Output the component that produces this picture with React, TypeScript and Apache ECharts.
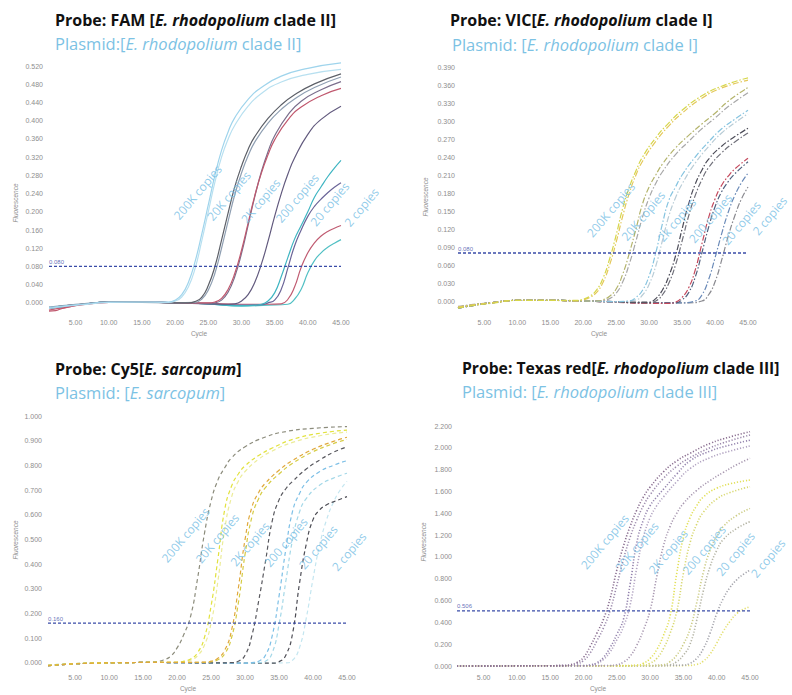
import React, { useEffect, useRef } from 'react';
import * as echarts from 'echarts';

// ---------- shared ticks ----------
const X_TICKS = [5, 10, 15, 20, 25, 30, 35, 40, 45];
const FAM_Y_TICKS = [0, 0.04, 0.08, 0.12, 0.16, 0.2, 0.24, 0.28, 0.32, 0.36, 0.4, 0.44, 0.48, 0.52];
const VIC_Y_TICKS = [0, 0.03, 0.06, 0.09, 0.12, 0.15, 0.18, 0.21, 0.24, 0.27, 0.3, 0.33, 0.36, 0.39];
const CY5_Y_TICKS = [0, 0.1, 0.2, 0.3, 0.4, 0.5, 0.6, 0.7, 0.8, 0.9, 1.0];
const TXR_Y_TICKS = [0, 0.2, 0.4, 0.6, 0.8, 1.0, 1.2, 1.4, 1.6, 1.8, 2.0, 2.2];

const COPY_TEXTS = ['200K copies', '20K copies', '2K copies', '200 copies', '20 copies', '2 copies'];
const COPY_TEXTS_VIC = ['200K copies', '20K copies', '2k copies', '200 copies', '20 copies', '2 copies'];

// thresholds
const FAM_THRESHOLD = 0.08;
const VIC_THRESHOLD = 0.08;
const CY5_THRESHOLD = 0.16;
const TXR_THRESHOLD = 0.506;

// copy-label anchor points [cycle, fluorescence]
const FAM_LABEL_POS = [[23.4, 0.243], [28.1, 0.235], [32.9, 0.224], [38.4, 0.23], [43.3, 0.217], [48.1, 0.21]];
const VIC_LABEL_POS = [[24.2, 0.152], [29.1, 0.142], [34.2, 0.135], [39.3, 0.138], [44.0, 0.13], [48.3, 0.142]];
const CY5_LABEL_POS = [[21.25, 0.518], [25.9, 0.504], [30.7, 0.481], [36.0, 0.488], [40.75, 0.468], [45.3, 0.45]];
const TXR_LABEL_POS = [[23.2, 1.14], [28.0, 1.093], [32.7, 1.048], [38.1, 1.063], [42.8, 1.027], [47.7, 0.987]];

// ---------- FAM curves ----------
const fam200kA = [[1,-0.010],[3,-0.007],[6,-0.003],[10,0.002],[15,0.002],[19,0.002],[20,0.006],[21,0.018],[22,0.045],[23,0.090],[24,0.150],[25,0.215],[26,0.280],[27,0.335],[28,0.376],[29,0.407],[31,0.447],[33,0.473],[36,0.498],[40,0.515],[45,0.527]];
const fam200kB = [[1,-0.012],[3,-0.008],[6,-0.004],[10,0.001],[15,0.002],[19,0.001],[20,0.004],[21,0.013],[22,0.035],[23,0.075],[24,0.135],[25,0.200],[26,0.265],[27,0.320],[28,0.360],[29,0.390],[31,0.432],[33,0.460],[36,0.485],[40,0.502],[45,0.513]];
const fam20kA = [[1,-0.011],[3,-0.007],[6,-0.003],[10,0.002],[15,0.002],[20,0.000],[22,0.000],[23,0.003],[24,0.012],[25,0.038],[26,0.080],[27,0.138],[28,0.198],[29,0.255],[30,0.300],[31,0.337],[32,0.365],[34,0.405],[36,0.435],[38,0.457],[41,0.481],[45,0.503]];
const fam20kB = [[1,-0.009],[3,-0.006],[6,-0.002],[10,0.002],[15,0.001],[20,0.000],[23,0.001],[24,0.008],[25,0.028],[26,0.065],[27,0.120],[28,0.180],[29,0.238],[30,0.285],[31,0.323],[32,0.353],[34,0.395],[36,0.425],[38,0.448],[41,0.473],[45,0.496]];
const fam2kA = [[1,-0.018],[2,-0.017],[3,-0.012],[6,-0.004],[10,0.001],[15,0.002],[20,0.000],[25,0.000],[26,0.002],[27,0.010],[28,0.030],[29,0.065],[30,0.115],[31,0.175],[32,0.235],[33,0.285],[34,0.325],[35,0.358],[37,0.402],[39,0.430],[42,0.455],[45,0.471]];
const fam2kB = [[1,-0.010],[3,-0.007],[6,-0.003],[10,0.002],[15,0.002],[20,0.000],[25,-0.001],[26,0.000],[27,0.006],[28,0.024],[29,0.058],[30,0.108],[31,0.170],[32,0.233],[33,0.288],[34,0.332],[35,0.367],[37,0.413],[39,0.443],[42,0.468],[45,0.486]];
const fam200A = [[1,-0.012],[3,-0.008],[6,-0.003],[10,0.002],[15,0.002],[20,0.000],[25,-0.002],[28,-0.003],[29,-0.002],[30,0.004],[31,0.018],[32,0.045],[33,0.085],[34,0.135],[35,0.190],[36,0.240],[37,0.283],[38,0.318],[40,0.370],[42,0.403],[45,0.432]];
const fam20A = [[1,-0.012],[3,-0.008],[6,-0.003],[10,0.002],[15,0.002],[20,0.000],[25,-0.002],[29,-0.006],[31,-0.006],[33,-0.003],[34,0.004],[35,0.022],[36,0.058],[37,0.100],[38,0.140],[39,0.170],[40,0.200],[41,0.232],[42,0.255],[43,0.277],[44,0.296],[45,0.313]];
const fam20B = [[1,-0.011],[3,-0.007],[6,-0.003],[10,0.002],[15,0.002],[20,0.000],[25,-0.002],[30,-0.005],[33,-0.004],[34,0.000],[35,0.006],[36,0.030],[37,0.077],[38,0.125],[39,0.160],[40,0.190],[41,0.212],[42,0.228],[43,0.242],[44,0.254],[45,0.264]];
const fam2A = [[1,-0.016],[3,-0.011],[6,-0.004],[10,0.001],[15,0.002],[20,0.000],[25,-0.001],[30,-0.003],[34,-0.003],[36,-0.002],[37,0.008],[38,0.035],[39,0.078],[40,0.110],[41,0.132],[42,0.147],[43,0.157],[44,0.164],[45,0.170]];
const fam2B = [[1,-0.012],[3,-0.008],[6,-0.003],[10,0.002],[15,0.002],[20,0.000],[25,-0.002],[30,-0.007],[34,-0.005],[37,-0.003],[38,0.008],[39,0.030],[40,0.066],[41,0.093],[42,0.110],[43,0.122],[44,0.131],[45,0.139]];

// ---------- VIC curves ----------
const vic200kA = [[1,-0.012],[3,-0.008],[6,-0.004],[10,0.001],[15,0.001],[19,0.001],[20,0.003],[21,0.008],[22,0.018],[23,0.038],[24,0.070],[25,0.110],[26,0.155],[27,0.190],[28,0.217],[29,0.240],[31,0.272],[33,0.297],[35,0.318],[38,0.342],[41,0.358],[45,0.372]];
const vic200kB = [[1,-0.010],[3,-0.007],[6,-0.003],[10,0.001],[15,0.001],[19,0.000],[20,0.002],[21,0.006],[22,0.014],[23,0.031],[24,0.060],[25,0.098],[26,0.142],[27,0.180],[28,0.210],[29,0.233],[31,0.266],[33,0.292],[35,0.313],[38,0.338],[41,0.355],[45,0.368]];
const vic20kA = [[1,-0.011],[3,-0.007],[6,-0.003],[10,0.001],[15,0.001],[20,0.000],[22,0.000],[23,0.002],[24,0.008],[25,0.020],[26,0.045],[27,0.080],[28,0.120],[29,0.162],[30,0.190],[31,0.210],[32,0.228],[34,0.255],[36,0.276],[38,0.295],[40,0.313],[42,0.333],[45,0.356]];
const vic20kB = [[1,-0.009],[3,-0.006],[6,-0.003],[10,0.001],[15,0.001],[20,0.000],[23,0.001],[24,0.004],[25,0.013],[26,0.032],[27,0.062],[28,0.100],[29,0.140],[30,0.172],[31,0.196],[32,0.215],[34,0.244],[36,0.266],[38,0.287],[40,0.305],[42,0.324],[45,0.347]];
const vic2kA = [[1,-0.012],[3,-0.008],[6,-0.003],[10,0.001],[15,0.001],[20,0.000],[25,-0.001],[27,0.000],[28,0.006],[29,0.018],[30,0.042],[31,0.080],[32,0.128],[33,0.168],[34,0.190],[35,0.210],[37,0.240],[39,0.265],[41,0.287],[43,0.303],[45,0.318]];
const vic2kB = [[1,-0.010],[3,-0.007],[6,-0.003],[10,0.001],[15,0.001],[20,0.000],[25,-0.001],[28,0.002],[29,0.010],[30,0.028],[31,0.058],[32,0.100],[33,0.142],[34,0.172],[35,0.195],[37,0.230],[39,0.257],[41,0.280],[43,0.297],[45,0.312]];
const vic200A = [[1,-0.012],[3,-0.008],[6,-0.003],[10,0.001],[15,0.001],[20,0.000],[25,-0.001],[28,-0.002],[30,-0.002],[31,0.004],[32,0.018],[33,0.042],[34,0.075],[35,0.120],[36,0.162],[37,0.195],[38,0.218],[39,0.236],[41,0.258],[43,0.274],[45,0.288]];
const vic200B = [[1,-0.011],[3,-0.007],[6,-0.003],[10,0.001],[15,0.001],[20,0.000],[25,-0.002],[30,-0.003],[31,0.000],[32,0.010],[33,0.030],[34,0.060],[35,0.100],[36,0.142],[37,0.176],[38,0.202],[39,0.222],[41,0.247],[43,0.265],[45,0.280]];
const vic20A = [[1,-0.012],[3,-0.008],[6,-0.003],[10,0.001],[15,0.001],[20,0.000],[25,-0.002],[30,-0.004],[33,-0.004],[34,-0.002],[35,0.006],[36,0.022],[37,0.052],[38,0.095],[39,0.138],[40,0.170],[41,0.193],[42,0.208],[43,0.220],[45,0.238]];
const vic20B = [[1,-0.011],[3,-0.007],[6,-0.003],[10,0.001],[15,0.001],[20,0.000],[25,-0.002],[30,-0.003],[34,-0.003],[35,0.002],[36,0.014],[37,0.040],[38,0.080],[39,0.122],[40,0.157],[41,0.182],[42,0.199],[43,0.212],[45,0.232]];
const vic2A = [[1,-0.012],[3,-0.008],[6,-0.003],[10,0.001],[15,0.001],[20,0.000],[25,-0.001],[30,-0.003],[35,-0.003],[37,0.000],[38,0.010],[39,0.035],[40,0.072],[41,0.112],[42,0.148],[43,0.176],[44,0.197],[45,0.213]];
const vic2B = [[1,-0.011],[3,-0.007],[6,-0.003],[10,0.001],[15,0.001],[20,0.000],[25,-0.001],[30,-0.003],[36,-0.003],[38,0.000],[39,0.010],[40,0.032],[41,0.068],[42,0.108],[43,0.142],[44,0.170],[45,0.190]];

// ---------- Cy5 curves ----------
const cy200k = [[1,-0.012],[4,-0.006],[8,-0.002],[12,0.000],[16,0.002],[17,0.004],[18,0.011],[19,0.025],[20,0.060],[21,0.115],[22,0.190],[23,0.340],[24,0.520],[25,0.655],[26,0.740],[27,0.790],[28,0.830],[30,0.875],[33,0.915],[36,0.937],[40,0.950],[45,0.957]];
const cy20kA = [[1,-0.012],[4,-0.006],[8,-0.002],[12,0.000],[16,0.001],[20,0.002],[21,0.006],[22,0.015],[23,0.040],[24,0.100],[25,0.230],[26,0.420],[27,0.620],[28,0.715],[29,0.765],[30,0.798],[32,0.840],[34,0.870],[37,0.905],[41,0.930],[45,0.943]];
const cy20kB = [[1,-0.010],[4,-0.005],[8,-0.001],[12,0.000],[16,0.001],[20,0.001],[21,0.004],[22,0.010],[23,0.028],[24,0.070],[25,0.160],[26,0.330],[27,0.540],[28,0.670],[29,0.735],[30,0.775],[32,0.825],[34,0.858],[37,0.893],[41,0.920],[45,0.935]];
const cy2kA = [[1,-0.012],[4,-0.006],[8,-0.002],[12,0.000],[16,0.001],[20,0.001],[24,0.002],[25,0.006],[26,0.018],[27,0.050],[28,0.130],[29,0.300],[30,0.500],[31,0.630],[32,0.690],[33,0.728],[35,0.780],[37,0.820],[40,0.865],[43,0.897],[45,0.914]];
const cy2kB = [[1,-0.011],[4,-0.005],[8,-0.001],[12,0.000],[16,0.001],[20,0.001],[24,0.001],[25,0.004],[26,0.012],[27,0.036],[28,0.100],[29,0.240],[30,0.440],[31,0.590],[32,0.665],[33,0.710],[35,0.765],[37,0.808],[40,0.855],[43,0.888],[45,0.905]];
const cy200A = [[1,-0.012],[4,-0.006],[8,-0.002],[12,0.000],[16,0.001],[20,0.000],[25,-0.001],[28,0.000],[29,0.006],[30,0.030],[31,0.110],[32,0.250],[33,0.410],[34,0.575],[35,0.660],[36,0.705],[37,0.735],[39,0.785],[41,0.822],[43,0.853],[45,0.875]];
const cy200B = [[1,-0.012],[4,-0.006],[8,-0.002],[12,0.000],[16,0.001],[20,0.000],[25,-0.001],[30,-0.002],[31,0.000],[32,0.006],[33,0.030],[34,0.110],[35,0.270],[36,0.460],[37,0.615],[38,0.685],[39,0.730],[41,0.775],[43,0.800],[45,0.819]];
const cy20A = [[1,-0.010],[4,-0.005],[8,-0.001],[12,0.000],[16,0.001],[20,0.000],[25,-0.001],[30,-0.002],[32,0.000],[33,0.006],[34,0.040],[35,0.155],[36,0.330],[37,0.500],[38,0.610],[39,0.665],[41,0.720],[43,0.748],[45,0.768]];
const cy20B = [[1,-0.012],[4,-0.006],[8,-0.002],[12,0.000],[16,0.001],[20,0.000],[25,-0.001],[30,-0.002],[34,-0.002],[35,0.004],[36,0.030],[37,0.120],[38,0.320],[39,0.480],[40,0.580],[41,0.620],[42,0.640],[43,0.652],[45,0.673]];
const cy2A = [[1,-0.010],[4,-0.005],[8,-0.001],[12,0.000],[16,0.001],[20,0.000],[25,-0.001],[30,-0.002],[36,-0.001],[37,0.010],[38,0.060],[39,0.180],[40,0.340],[41,0.480],[42,0.580],[43,0.650],[44,0.700],[45,0.735]];

// ---------- Texas red curves ----------
const tx200kA = [[1,0.0],[5,0.0],[10,0.002],[15,0.003],[17,0.004],[18,0.012],[19,0.032],[20,0.080],[21,0.180],[22,0.300],[23,0.430],[24,0.620],[25,0.880],[26,1.100],[27,1.280],[28,1.430],[29,1.550],[30,1.640],[32,1.780],[34,1.880],[36,1.950],[39,2.040],[42,2.100],[45,2.148]];
const tx200kB = [[1,0.0],[5,0.0],[10,0.002],[15,0.003],[18,0.006],[19,0.018],[20,0.050],[21,0.120],[22,0.230],[23,0.350],[24,0.510],[25,0.740],[26,0.980],[27,1.180],[28,1.340],[29,1.470],[30,1.570],[32,1.720],[34,1.830],[36,1.910],[39,2.000],[42,2.065],[45,2.117]];
const tx20kA = [[1,0.0],[5,0.0],[10,0.002],[15,0.003],[20,0.004],[21,0.010],[22,0.030],[23,0.080],[24,0.170],[25,0.290],[26,0.430],[27,0.750],[28,1.130],[29,1.340],[30,1.470],[31,1.550],[32,1.620],[34,1.760],[36,1.880],[39,1.970],[42,2.025],[45,2.070]];
const tx20kB = [[1,0.0],[5,0.0],[10,0.002],[15,0.003],[20,0.003],[21,0.007],[22,0.022],[23,0.060],[24,0.130],[25,0.240],[26,0.360],[27,0.560],[28,0.900],[29,1.180],[30,1.360],[31,1.470],[32,1.550],[34,1.690],[36,1.810],[39,1.910],[42,1.970],[45,2.017]];
const tx2kA = [[1,0.0],[5,0.0],[10,0.002],[15,0.003],[20,0.003],[24,0.005],[25,0.012],[26,0.035],[27,0.090],[28,0.190],[29,0.330],[30,0.510],[31,0.820],[32,1.100],[33,1.280],[34,1.400],[35,1.490],[37,1.610],[39,1.700],[41,1.775],[43,1.845],[45,1.904]];
const tx200A = [[1,0.0],[5,0.0],[10,0.001],[15,0.002],[20,0.002],[25,0.003],[28,0.008],[29,0.025],[30,0.070],[31,0.150],[32,0.280],[33,0.460],[34,0.850],[35,1.180],[36,1.360],[37,1.470],[38,1.550],[40,1.630],[42,1.670],[45,1.705]];
const tx200B = [[1,0.0],[5,0.0],[10,0.001],[15,0.002],[20,0.002],[25,0.002],[29,0.008],[30,0.025],[31,0.070],[32,0.160],[33,0.300],[34,0.500],[35,0.850],[36,1.130],[37,1.300],[38,1.410],[40,1.530],[42,1.590],[45,1.644]];
const tx20A = [[1,0.0],[5,0.0],[10,0.001],[15,0.002],[20,0.002],[25,0.002],[30,0.004],[32,0.012],[33,0.040],[34,0.100],[35,0.200],[36,0.340],[37,0.580],[38,0.860],[39,1.060],[40,1.190],[41,1.280],[43,1.380],[45,1.445]];
const tx20B = [[1,0.0],[5,0.0],[10,0.001],[15,0.002],[20,0.002],[25,0.002],[30,0.003],[33,0.012],[34,0.040],[35,0.100],[36,0.200],[37,0.420],[38,0.690],[39,0.910],[40,1.060],[41,1.160],[43,1.260],[45,1.323]];
const tx2A = [[1,0.0],[5,0.0],[10,0.001],[15,0.002],[20,0.002],[25,0.002],[30,0.003],[35,0.008],[36,0.025],[37,0.070],[38,0.160],[39,0.300],[40,0.480],[41,0.620],[42,0.720],[43,0.790],[44,0.840],[45,0.880]];
const tx2B = [[1,0.0],[5,0.0],[10,0.001],[15,0.002],[20,0.002],[25,0.002],[30,0.002],[35,0.004],[37,0.015],[38,0.045],[39,0.110],[40,0.210],[41,0.320],[42,0.410],[43,0.480],[44,0.520],[45,0.544]];

// ---------- curve/colour pairing (drawing order: last on top) ----------
const FAM_CURVES = [
  { data: fam2B, color: '#52c0c4' }, { data: fam2A, color: '#c05c72' },
  { data: fam20B, color: '#6b6598' }, { data: fam20A, color: '#3fb5c2' },
  { data: fam200A, color: '#625a7e' },
  { data: fam2kB, color: '#7a6e8c' }, { data: fam2kA, color: '#c0586e' },
  { data: fam20kB, color: '#8f9fb2' }, { data: fam20kA, color: '#5d6068' },
  { data: fam200kB, color: '#b8e0f0' }, { data: fam200kA, color: '#9fd4ec' },
];
const VIC_CURVES = [
  { data: vic2B, color: '#8a8a90' }, { data: vic2A, color: '#6a8ab8' },
  { data: vic20B, color: '#50607e' }, { data: vic20A, color: '#c4485c' },
  { data: vic200B, color: '#70707a' }, { data: vic200A, color: '#4c4c58' },
  { data: vic2kB, color: '#b8ccd6' }, { data: vic2kA, color: '#86c4e0' },
  { data: vic20kB, color: '#a8a8a8' }, { data: vic20kA, color: '#b4b46c' },
  { data: vic200kB, color: '#e4c85a' }, { data: vic200kA, color: '#d6d64a' },
];
const CY5_CURVES = [
  { data: cy2A, color: '#c4e6f0' }, { data: cy20B, color: '#4c4c54' },
  { data: cy20A, color: '#a4d8e8' }, { data: cy200B, color: '#7cbfe6' },
  { data: cy200A, color: '#58585e' }, { data: cy200k, color: '#8c8c7c' },
  { data: cy20kB, color: '#ecec9a' }, { data: cy2kB, color: '#d6cc44' },
  { data: cy20kA, color: '#e2e23e' }, { data: cy2kA, color: '#e0a83c' },
];
const TXR_CURVES = [
  { data: tx2B, color: '#e4e070' }, { data: tx2A, color: '#a4a4ac' },
  { data: tx20B, color: '#b4b4a4' }, { data: tx20A, color: '#cccc84' },
  { data: tx200B, color: '#d8d870' }, { data: tx200A, color: '#e2e058' },
  { data: tx2kA, color: '#a898b0' }, { data: tx20kB, color: '#b2a4c2' },
  { data: tx20kA, color: '#9484ae' }, { data: tx200kB, color: '#9c8aac' },
  { data: tx200kA, color: '#8a6e90' },
];

// ---------- layout ----------
const PANELS = [
  { curves: FAM_CURVES, yTicks: FAM_Y_TICKS, thr: FAM_THRESHOLD, thrText: '0.080', labels: FAM_LABEL_POS, texts: COPY_TEXTS,
    grid: { left: 49, top: 57, width: 292, height: 255 }, yMin: -0.02, yMax: 0.54, xMargin: 7, yMargin: 6, line: 'solid' },
  { curves: VIC_CURVES, yTicks: VIC_Y_TICKS, thr: VIC_THRESHOLD, thrText: '0.080', labels: VIC_LABEL_POS, texts: COPY_TEXTS_VIC,
    grid: { left: 458, top: 67, width: 290, height: 246 }, yMin: -0.02, yMax: 0.39, xMargin: 6, yMargin: 3, line: 'dashdot' },
  { curves: CY5_CURVES, yTicks: CY5_Y_TICKS, thr: CY5_THRESHOLD, thrText: '0.160', labels: CY5_LABEL_POS, texts: COPY_TEXTS,
    grid: { left: 48, top: 416, width: 299, height: 251.6 }, yMin: -0.02, yMax: 1.0, xMargin: 6.5, yMargin: 6, line: 'dashed' },
  { curves: TXR_CURVES, yTicks: TXR_Y_TICKS, thr: TXR_THRESHOLD, thrText: '0.506', labels: TXR_LABEL_POS, texts: COPY_TEXTS,
    grid: { left: 457, top: 426, width: 293, height: 243.3 }, yMin: -0.03, yMax: 2.2, xMargin: 5, yMargin: 5, line: 'dotted' },
];

const TICK_FONT = 'Liberation Sans';
const TICK_COLOR = '#8e8e8e';
const COPY_COLOR = '#74bde4';
const THR_COLOR = '#3a4ca8';
const TITLE_FONT = 'Open Sans';

function lineStyleFor(kind: string, color: string) {
  if (kind === 'dashdot') return { color, width: 1.2, type: [6, 2, 1.5, 2] };
  if (kind === 'dashed') return { color, width: 1.2, type: [4, 3] };
  if (kind === 'dotted') return { color, width: 1.6, type: [1.2, 1.8] };
  return { color, width: 1.2, type: 'solid' };
}

function titleText(x: number, y: number, parts: string, size: number) {
  return {
    type: 'text', x, y, silent: true,
    style: {
      text: parts, verticalAlign: 'middle', align: 'left',
      rich: {
        b: { fontFamily: TITLE_FONT, fontWeight: 'bold', fontSize: size, fill: '#111111' },
        bi: { fontFamily: TITLE_FONT, fontWeight: 'bold', fontStyle: 'italic', fontSize: size, fill: '#111111' },
        s: { fontFamily: TITLE_FONT, fontSize: 16.5, fill: '#7cc2e4' },
        si: { fontFamily: TITLE_FONT, fontStyle: 'italic', fontSize: 16.5, fill: '#7cc2e4' },
      },
    },
  };
}

function smallText(x: number, y: number, text: string, rotate: boolean) {
  return {
    type: 'text', x, y, rotation: rotate ? Math.PI / 2 : 0, silent: true,
    style: { text, fontFamily: TICK_FONT, fontSize: 6.5, fontStyle: rotate ? 'italic' : 'normal', fill: TICK_COLOR, align: 'center', verticalAlign: 'middle' },
  };
}

export default function App() {
  const ref = useRef<HTMLDivElement>(null);
  useEffect(() => {
    if (!ref.current) return;
    const chart = echarts.init(ref.current, undefined, { renderer: 'svg' });
    const grids: any[] = [];
    const xAxes: any[] = [];
    const yAxes: any[] = [];
    const series: any[] = [];
    PANELS.forEach((p, i) => {
      grids.push({ ...p.grid, containLabel: false, outerBoundsMode: 'none' });
      xAxes.push({
        type: 'value', gridIndex: i, min: 1, max: 45,
        axisLine: { show: false }, axisTick: { show: false }, splitLine: { show: false },
        axisLabel: { customValues: X_TICKS, formatter: (v: number) => v.toFixed(2), fontSize: 7, fontFamily: TICK_FONT, color: TICK_COLOR, margin: p.xMargin },
      });
      yAxes.push({
        type: 'value', gridIndex: i, min: p.yMin, max: p.yMax,
        axisLine: { show: false }, axisTick: { show: false }, splitLine: { show: false },
        axisLabel: { customValues: p.yTicks, formatter: (v: number) => v.toFixed(3), fontSize: 7, fontFamily: TICK_FONT, color: TICK_COLOR, margin: p.yMargin },
      });
      p.curves.forEach((c) => {
        series.push({
          type: 'line', xAxisIndex: i, yAxisIndex: i, data: c.data, smooth: 0.5,
          symbol: 'none', silent: true, lineStyle: lineStyleFor(p.line, c.color), z: 2,
        });
      });
      series.push({
        type: 'line', xAxisIndex: i, yAxisIndex: i, data: [[1, p.thr], [45, p.thr]], symbol: 'none', silent: true,
        lineStyle: { color: THR_COLOR, width: 1.3, type: [3, 2] }, z: 3,
      });
      const labelItems: any[] = p.labels.map((pos, k) => ({
        value: pos,
        label: { show: true, formatter: p.texts[k], rotate: 50, position: 'inside', color: COPY_COLOR, fontSize: 12, fontFamily: TITLE_FONT },
      }));
      labelItems.push({
        value: [1, p.thr],
        label: { show: true, formatter: p.thrText, position: 'top', align: 'left', distance: 1, color: THR_COLOR, fontSize: 6, fontFamily: TICK_FONT },
      });
      series.push({
        type: 'scatter', xAxisIndex: i, yAxisIndex: i, data: labelItems, symbolSize: 1, clip: false, silent: true,
        itemStyle: { color: 'rgba(0,0,0,0)' }, z: 5,
      });
    });

    const graphic: any[] = [
      titleText(55, 20, '{b|Probe: FAM [}{bi|E. rhodopolium}{b| clade II]}', 16),
      titleText(55, 43, '{s|Plasmid:[}{si|E. rhodopolium}{s| clade II]}', 16),
      titleText(450, 20, '{b|Probe: VIC[}{bi|E. rhodopolium}{b| clade I]}', 16),
      titleText(452, 44, '{s|Plasmid: [}{si|E. rhodopolium}{s| clade I]}', 16),
      titleText(55, 369, '{b|Probe: Cy5[}{bi|E. sarcopum}{b|]}', 16),
      titleText(55, 392, '{s|Plasmid: [}{si|E. sarcopum}{s|]}', 16),
      titleText(462, 368, '{b|Probe: Texas red[}{bi|E. rhodopolium}{b| clade III]}', 15.7),
      titleText(462, 391, '{s|Plasmid: [}{si|E. rhodopolium}{s| clade III]}', 15.7),
      smallText(15, 203, 'Fluorescence', true),
      smallText(425, 197, 'Fluorescence', true),
      smallText(15, 540, 'Fluorescence', true),
      smallText(423, 542, 'Fluorescence', true),
      smallText(199, 333, 'Cycle', false),
      smallText(599, 333, 'Cycle', false),
      smallText(188, 688, 'Cycle', false),
      smallText(598, 688, 'Cycle', false),
    ];

    chart.setOption({
      animation: false,
      backgroundColor: '#ffffff',
      grid: grids,
      xAxis: xAxes,
      yAxis: yAxes,
      series,
      graphic,
    });
    return () => chart.dispose();
  }, []);
  return <div ref={ref} style={{ position: 'absolute', left: 0, top: 0, width: 792, height: 695 }} />;
}
